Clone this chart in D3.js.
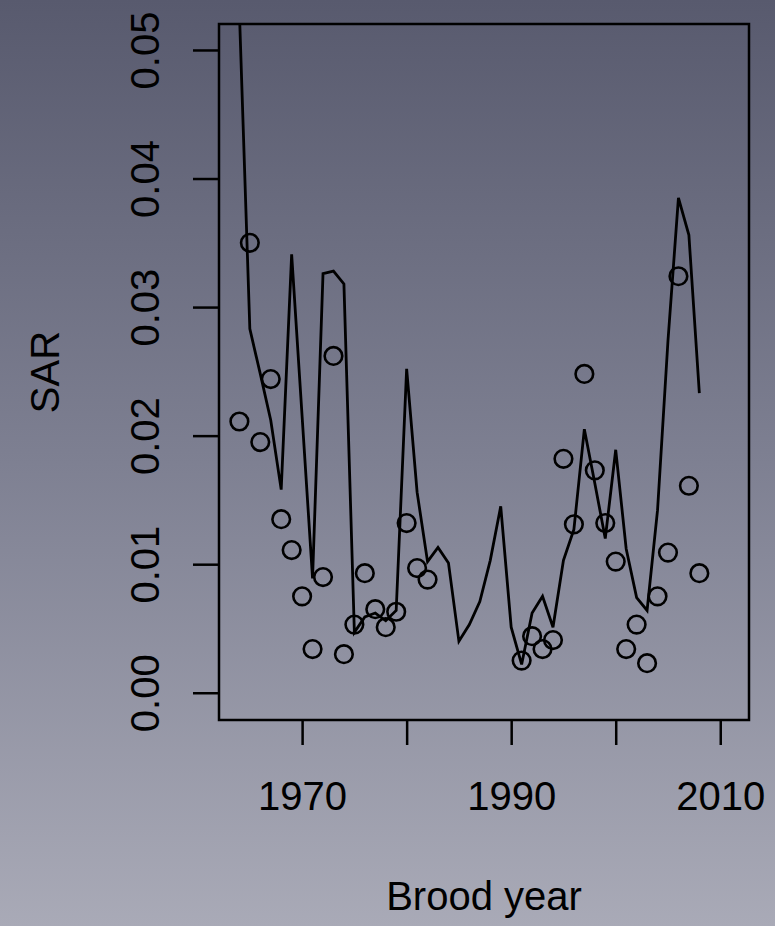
<!DOCTYPE html>
<html>
<head>
<meta charset="utf-8">
<script src="https://cdn.jsdelivr.net/npm/d3@7"></script>
<style>
  html, body { margin: 0; padding: 0; }
  body { width: 775px; height: 926px; overflow: hidden; }
  svg { display: block; font-family: "Liberation Sans", Arial, Helvetica, sans-serif; }
</style>
</head>
<body>
<svg id="chart" width="775" height="926"></svg>
<script>
// SAR por brood year: círculos = valores observados, linha = série ajustada.

const YEARS = d3.range(1964, 2009);

// observado (null = sem círculo naquele ano)
const SAR_OBS = [
  0.0211, 0.0350, 0.0195, 0.0244, 0.0135, 0.0111, 0.0075, 0.0034, 0.0090, 0.0262,
  0.0030, 0.0053, 0.0093, 0.0065, 0.0051, 0.0063, 0.0132, 0.0097, 0.0088,
  null, null, null, null, null, null, null, null,
  0.0025, 0.0044, 0.0034, 0.0041, 0.0182, 0.0131, 0.0248, 0.0173, 0.0132, 0.0102,
  0.0034, 0.0053, 0.0023, 0.0075, 0.0109, 0.0324, 0.0161, 0.0093,
];

// linha (1964 sai do topo do gráfico)
const SAR_LINE = [
  0.0530, 0.0283, 0.0248, 0.0212, 0.0158, 0.0341, 0.0215, 0.0089, 0.0326, 0.0328,
  0.0318, 0.0047, 0.0059, 0.0062, 0.0056, 0.0064, 0.0252, 0.0156, 0.0102, 0.0113,
  0.0101, 0.0040, 0.0053, 0.0071, 0.0103, 0.0145, 0.0051, 0.0022, 0.0062, 0.0075,
  0.0051, 0.0103, 0.0127, 0.0205, 0.0163, 0.0120, 0.0189, 0.0112, 0.0074, 0.0064,
  0.0142, 0.0274, 0.0385, 0.0356, 0.0233,
];

const X_TICKS = [1970, 1980, 1990, 2000, 2010];
const X_TICK_LABELS = ["1970", "", "1990", "", "2010"];
const Y_TICKS = [0, 0.01, 0.02, 0.03, 0.04, 0.05];
const Y_TICK_LABELS = ["0.00", "0.01", "0.02", "0.03", "0.04", "0.05"];

const X_LIM = [1962.05, 2012.75];
const Y_LIM = [-0.00212, 0.05202];

const svg = d3.select("#chart");
const totalW = 775, totalH = 926;
const margin = { top: 24, right: 26, bottom: 206, left: 219 };
const W = totalW - margin.left - margin.right;
const H = totalH - margin.top - margin.bottom;

// fundo em degradê (cinza-azulado escuro em cima, claro embaixo)
const defs = svg.append("defs");
const grad = defs.append("linearGradient").attr("id", "bg")
  .attr("x1", 0).attr("y1", 0).attr("x2", 0).attr("y2", 1);
grad.append("stop").attr("offset", "0%").attr("stop-color", "#585a6e");
grad.append("stop").attr("offset", "50%").attr("stop-color", "#7e8092");
grad.append("stop").attr("offset", "100%").attr("stop-color", "#a9aab7");
svg.append("rect").attr("width", totalW).attr("height", totalH).attr("fill", "url(#bg)");

defs.append("clipPath").attr("id", "plot-clip")
  .append("rect").attr("width", W).attr("height", H);

const g = svg.append("g").attr("transform", `translate(${margin.left},${margin.top})`);

const x = d3.scaleLinear().domain(X_LIM).range([0, W]);
const y = d3.scaleLinear().domain(Y_LIM).range([H, 0]);

const data = YEARS.map((yr, i) => ({ year: yr, obs: SAR_OBS[i], fit: SAR_LINE[i] }));

// eixos no estilo R: ticks para fora, sem linha de domínio (a caixa faz esse papel)
const xAxis = g.append("g").attr("transform", `translate(0,${H})`)
  .call(d3.axisBottom(x).tickValues(X_TICKS).tickSize(25).tickPadding(40)
    .tickFormat((d, i) => X_TICK_LABELS[i]));
xAxis.select(".domain").remove();
xAxis.selectAll("line").attr("stroke", "#000").attr("stroke-width", 2.5);
xAxis.selectAll("text").attr("fill", "#000").style("font-size", "40px")
  .attr("y", null).attr("dy", null)
  .attr("transform", "translate(0,90)");

const yAxis = g.append("g")
  .call(d3.axisLeft(y).tickValues(Y_TICKS).tickSize(26)
    .tickFormat((d, i) => Y_TICK_LABELS[i]));
yAxis.select(".domain").remove();
yAxis.selectAll("line").attr("stroke", "#000").attr("stroke-width", 2.5);
// rótulos do eixo Y girados, paralelos ao eixo
yAxis.selectAll("text").attr("fill", "#000").style("font-size", "40px")
  .attr("x", null).attr("dy", null)
  .attr("text-anchor", "middle")
  .attr("transform", "translate(-60,0) rotate(-90)");

// caixa
g.append("rect").attr("width", W).attr("height", H)
  .attr("fill", "none").attr("stroke", "#000").attr("stroke-width", 2.5);

// linha ajustada
const line = d3.line().x((d) => x(d.year)).y((d) => y(d.fit));
g.append("path").datum(data)
  .attr("clip-path", "url(#plot-clip)")
  .attr("fill", "none").attr("stroke", "#000").attr("stroke-width", 2.8)
  .attr("stroke-linejoin", "miter").attr("d", line);

// pontos observados
g.selectAll(".dot").data(data.filter((d) => d.obs != null)).join("circle")
  .attr("class", "dot")
  .attr("cx", (d) => x(d.year)).attr("cy", (d) => y(d.obs))
  .attr("r", 8.8)
  .attr("fill", "none").attr("stroke", "#000").attr("stroke-width", 2.6);

// títulos dos eixos
svg.append("text")
  .attr("x", margin.left + W / 2).attr("y", 910)
  .attr("text-anchor", "middle").style("font-size", "40px").attr("fill", "#000")
  .text("Brood year");
svg.append("text")
  .attr("transform", `translate(59,${margin.top + H / 2}) rotate(-90)`)
  .attr("text-anchor", "middle").style("font-size", "40px").attr("fill", "#000")
  .text("SAR");
</script>
</body>
</html>
